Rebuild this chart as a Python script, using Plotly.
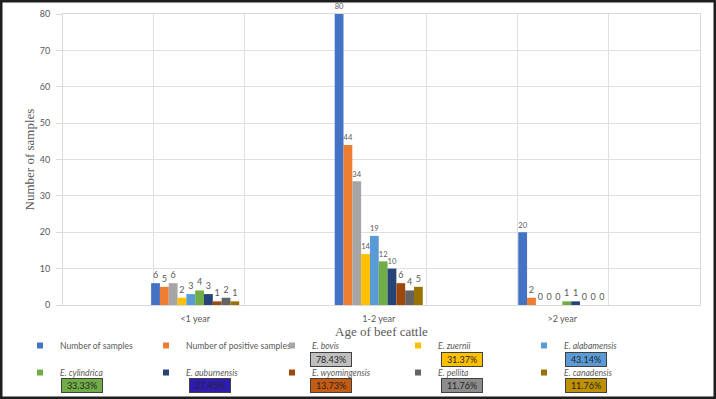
import plotly.graph_objects as go

categories = ["<1 year", "1-2 year", ">2 year"]
series_names = [
    "Number of samples",
    "Number of positive samples",
    "<i>E. bovis</i>",
    "<i>E. zuernii</i>",
    "<i>E. alabamensis</i>",
    "<i>E. cylindrica</i>",
    "<i>E. auburnensis</i>",
    "<i>E. wyomingensis</i>",
    "<i>E. pellita</i>",
    "<i>E. canadensis</i>",
]
number_of_samples = [6, 80, 20]
positive_samples = [5, 44, 2]
e_bovis = [6, 34, 0]
e_zuernii = [2, 14, 0]
e_alabamensis = [3, 19, 0]
e_cylindrica = [4, 12, 1]
e_auburnensis = [3, 10, 1]
e_wyomingensis = [1, 6, 0]
e_pellita = [2, 4, 0]
e_canadensis = [1, 5, 0]
series_values = [number_of_samples, positive_samples, e_bovis, e_zuernii, e_alabamensis,
                 e_cylindrica, e_auburnensis, e_wyomingensis, e_pellita, e_canadensis]
percentages = [None, None, "78.43%", "31.37%", "43.14%", "33.33%", "27.45%", "13.73%", "11.76%", "11.76%"]

colors = ["#4472C4", "#ED7D31", "#A5A5A5", "#FFC000", "#5B9BD5",
          "#70AD47", "#264478", "#9E480E", "#636363", "#997300"]
box_fill = [None, None, "#BFBFBF", "#FFC000", "#5B9BD5",
            "#70AD47", "#2E1CB0", "#C55A11", "#8C8C8C", "#BF9000"]

W, H = 716, 399
ML, MR, MT, MB = 63, 16, 14, 94
PW, PH = W - ML - MR, H - MT - MB

x_pos = list(range(len(categories)))

fig = go.Figure()
for i, (name, vals) in enumerate(zip(series_names, series_values)):
    fig.add_trace(go.Bar(
        x=x_pos, y=vals, name=name, legendgroup=f"g{i}", showlegend=False,
        marker=dict(color=colors[i], line=dict(width=0)),
        text=[str(v) for v in vals], textposition="outside",
        textfont=dict(size=9, color="#595959", family="Lato"),
        cliponaxis=False,
    ))
# legend entries with small square swatches (linked to the bars)
for i, name in enumerate(series_names):
    fig.add_trace(go.Scatter(
        x=[None], y=[None], mode="markers", name=name, legendgroup=f"g{i}",
        marker=dict(symbol="square", size=6, color=colors[i]),
        legend="legend" if i < 5 else "legend2",
    ))

# percentage boxes under legend entries (pixel layout positions)
box_cols = [82, 210, 331, 462, 586]
box_rows = [359, 385]
for i, p in enumerate(percentages):
    if p is None:
        continue
    col = i % 5
    row = i // 5
    px, py = box_cols[col], box_rows[row]
    fig.add_annotation(
        x=(px - ML) / PW, y=1 - (py - MT) / PH, xref="paper", yref="paper",
        xanchor="center", yanchor="middle",
        text=p, showarrow=False, width=38, height=11,
        bgcolor=box_fill[i], bordercolor="#404040", borderwidth=1,
        font=dict(size=9, color="#262626", family="Lato"),
    )

fig.add_shape(type="rect", xref="paper", yref="paper",
              x0=-ML / PW, x1=1 + MR / PW, y0=-MB / PH, y1=1 + MT / PH,
              line=dict(color="#1e1e1e", width=5), layer="above")

legend_common = dict(orientation="h", xanchor="left", yanchor="top",
                     entrywidth=81, traceorder="normal",
                     font=dict(size=8.6, color="#595959", family="Lato"),
                     bgcolor="rgba(0,0,0,0)")

fig.update_layout(
    width=W, height=H,
    margin=dict(l=ML, r=MR, t=MT, b=MB, autoexpand=False),
    paper_bgcolor="white", plot_bgcolor="white",
    barmode="group", bargap=0.52, bargroupgap=0,
    font=dict(family="Lato", color="#595959"),
    showlegend=True,
    legend=dict(x=-0.0675, y=-0.0893, **legend_common),
    legend2=dict(x=-0.0675, y=-0.1822, **legend_common),
    xaxis=dict(
        range=[-0.72, 2.75], tickvals=x_pos, ticktext=categories,
        showgrid=False, ticks="", ticklabelstandoff=5,
        tickfont=dict(size=9, color="#595959", family="Lato"),
        showline=True, mirror=True, linecolor="#d9d9d9", linewidth=1,
        minor=dict(tick0=-0.225, dtick=0.4955, showgrid=True, gridcolor="#e0e0e0", gridwidth=1),
        zeroline=False,
        title=dict(text="Age of beef cattle", standoff=4,
                   font=dict(size=13, color="#595959", family="Liberation Serif")),
    ),
    yaxis=dict(
        range=[0, 80], dtick=10, showgrid=True, gridcolor="#e0e0e0", gridwidth=1,
        ticks="outside", ticklen=6, tickcolor="#d9d9d9", ticklabelstandoff=4,
        tickfont=dict(size=9, color="#595959", family="Lato"),
        showline=True, mirror=True, linecolor="#d9d9d9", linewidth=1,
        zeroline=False,
        title=dict(text="Number of samples", standoff=2,
                   font=dict(size=13, color="#595959", family="Liberation Serif")),
    ),
)

fig.write_html("out.html", config={"displayModeBar": False},
               post_script="document.body.style.margin='0';")
